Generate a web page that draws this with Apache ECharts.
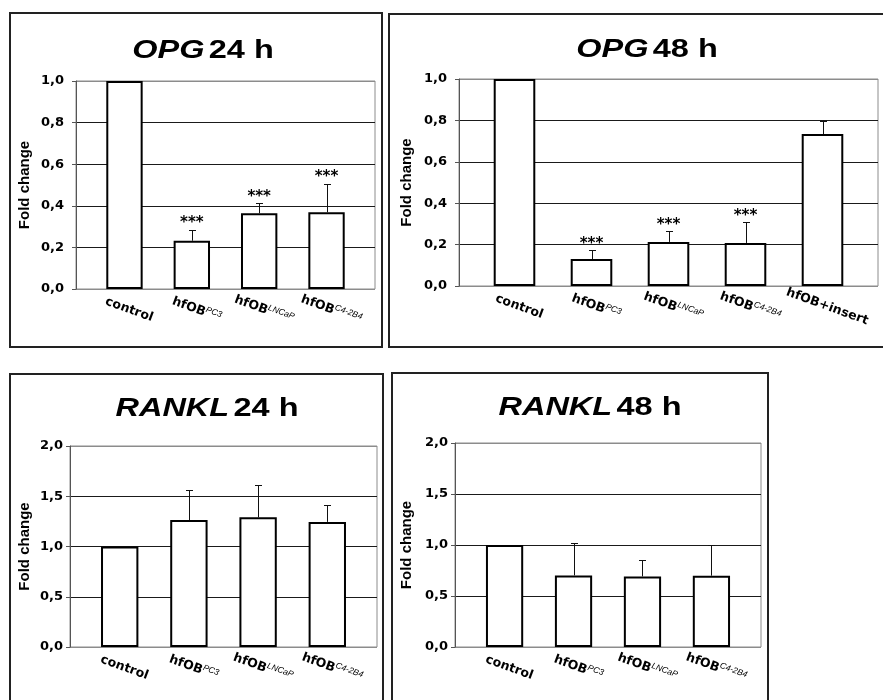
<!DOCTYPE html>
<html>
<head>
<meta charset="utf-8">
<script src="https://cdn.jsdelivr.net/npm/echarts@6/dist/echarts.min.js"></script>
<style>
  html, body { margin: 0; padding: 0; background: #fff; }
  #chart { width: 883px; height: 700px; }
</style>
</head>
<body>
<div id="chart"></div>
<script>
// Group names; the part after "|" is written as a superscript
const groups4 = ['control', 'hfOB|PC3', 'hfOB|LNCaP', 'hfOB|C4-2B4'];
const groups5 = ['control', 'hfOB|PC3', 'hfOB|LNCaP', 'hfOB|C4-2B4', 'hfOB+insert'];

// OPG, 24 h: mean fold change and upper SD
const opg24Mean = [1.0, 0.232, 0.364, 0.369];
const opg24Sd = [0, 0.052, 0.048, 0.136];
const opg24Sig = ['', '***', '***', '***'];

// OPG, 48 h
const opg48Mean = [1.0, 0.130, 0.213, 0.208, 0.734];
const opg48Sd = [0, 0.042, 0.052, 0.099, 0.063];
const opg48Sig = ['', '***', '***', '***', ''];

// RANKL, 24 h
const rankl24Mean = [1.0, 1.263, 1.290, 1.245];
const rankl24Sd = [0, 0.297, 0.325, 0.165];
const rankl24Sig = ['', '', '', ''];

// RANKL, 48 h
const rankl48Mean = [1.0, 0.702, 0.692, 0.699];
const rankl48Sd = [0, 0.314, 0.161, 0.298];
const rankl48Sig = ['', '', '', ''];

// Y tick values
const opgTicks = [0, 0.2, 0.4, 0.6, 0.8, 1.0];
const ranklTicks = [0, 0.5, 1.0, 1.5, 2.0];

const WIDE = '"DejaVu Sans", Verdana, sans-serif';
const NARROW = '"Liberation Sans", Arial, sans-serif';

const panels = [
  { gene: 'OPG', time: '24 h', cats: groups4, mean: opg24Mean, sd: opg24Sd, sig: opg24Sig, ticks: opgTicks,
    plot: { left: 76, top: 81, width: 299, height: 208 }, inset: 14.8, labelMargin: 12, nameGap: 44,
    box: { x: 10, y: 13, w: 372, h: 334 }, titleX: 203, titleY: 50 },
  { gene: 'OPG', time: '48 h', cats: groups5, mean: opg48Mean, sd: opg48Sd, sig: opg48Sig, ticks: opgTicks,
    plot: { left: 459, top: 79, width: 419, height: 207 }, inset: 17, labelMargin: 12, nameGap: 45,
    box: { x: 389, y: 14, w: 520, h: 333 }, titleX: 647, titleY: 49 },
  { gene: 'RANKL', time: '24 h', cats: groups4, mean: rankl24Mean, sd: rankl24Sd, sig: rankl24Sig, ticks: ranklTicks,
    plot: { left: 70, top: 446, width: 307, height: 201 }, inset: 15.1, labelMargin: 7, nameGap: 38,
    box: { x: 10, y: 374, w: 373, h: 360 }, titleX: 207, titleY: 408 },
  { gene: 'RANKL', time: '48 h', cats: groups4, mean: rankl48Mean, sd: rankl48Sd, sig: rankl48Sig, ticks: ranklTicks,
    plot: { left: 455, top: 443, width: 306, height: 204 }, inset: 15.1, labelMargin: 7, nameGap: 41,
    box: { x: 392, y: 373, w: 376, h: 360 }, titleX: 590, titleY: 407 }
];

function groupLabel(v) {
  const parts = v.split('|');
  return parts.length > 1 ? '{m|' + parts[0] + '}{s|' + parts[1] + '}' : '{m|' + parts[0] + '}';
}

function makeErrorBars(panel) {
  return function (params, api) {
    const i = params.dataIndex;
    const mean = api.value(1);
    const top = api.value(2);
    const base = api.coord([api.value(0), mean]);
    const tip = api.coord([api.value(0), top]);
    const half = 3.5;
    const children = [];
    if (top > mean) {
      const x = Math.round(tip[0]) + 0.5;
      const yt = Math.round(tip[1]) + 0.5;
      children.push({ type: 'line', shape: { x1: x, y1: base[1], x2: x, y2: yt },
        style: { stroke: '#111', lineWidth: 1 } });
      children.push({ type: 'line', shape: { x1: x - half, y1: yt, x2: x + half, y2: yt },
        style: { stroke: '#111', lineWidth: 1 } });
    }
    if (panel.sig[i]) {
      children.push({ type: 'text', x: tip[0], y: tip[1] + 1,
        style: { text: panel.sig[i], align: 'center', verticalAlign: 'bottom',
          font: 'bold 15px ' + WIDE, fill: '#000' } });
    }
    return { type: 'group', children: children };
  };
}

const grid = [], xAxis = [], yAxis = [], series = [], graphic = [];

panels.forEach(function (p) {
  const bgIdx = grid.length;
  const yMax = p.ticks[p.ticks.length - 1];
  const step = p.ticks[1] - p.ticks[0];
  const splitColors = p.ticks.map(function (t, j) {
    return (j === 0 || j === p.ticks.length - 1) ? '#8c8c8c' : '#1a1a1a';
  });

  // plot area with y axis and horizontal grid lines
  grid.push({ left: p.plot.left, top: p.plot.top, width: p.plot.width, height: p.plot.height,
    show: true, borderColor: '#8c8c8c', borderWidth: 1, backgroundColor: '#fff' });
  xAxis.push({ gridIndex: bgIdx, type: 'value', min: 0, max: 1, show: false });
  yAxis.push({ gridIndex: bgIdx, type: 'value', min: 0, max: yMax, interval: step,
    name: 'Fold change', nameLocation: 'middle', nameGap: p.nameGap,
    nameTextStyle: { fontFamily: NARROW, fontWeight: 'bold', fontSize: 15, color: '#000' },
    axisLine: { show: true, lineStyle: { color: '#555', width: 1 } },
    axisTick: { show: true, length: 4, lineStyle: { color: '#555' } },
    axisLabel: { fontFamily: WIDE, fontWeight: 'bold', fontSize: 13, color: '#000', margin: p.labelMargin,
      formatter: function (v) { return v.toFixed(1).replace('.', ','); } },
    splitLine: { show: true, lineStyle: { color: splitColors, width: 1 } } });

  // bars and group labels
  const fgIdx = grid.length;
  grid.push({ left: p.plot.left + p.inset, top: p.plot.top, width: p.plot.width - 2 * p.inset,
    height: p.plot.height, show: false });
  xAxis.push({ gridIndex: fgIdx, type: 'category', data: p.cats,
    axisLine: { show: false }, axisTick: { show: false },
    axisLabel: { interval: 0, rotate: -20, align: 'center', margin: 19, padding: [0, 0, 0, 10],
      formatter: groupLabel,
      rich: {
        m: { fontFamily: WIDE, fontWeight: 'bold', fontSize: 12.5, color: '#000', lineHeight: 16 },
        s: { fontFamily: NARROW, fontStyle: 'italic', fontSize: 8.5, color: '#000', verticalAlign: 'top', lineHeight: 8 }
      } } });
  yAxis.push({ gridIndex: fgIdx, type: 'value', min: 0, max: yMax, show: false });

  series.push({ type: 'bar', xAxisIndex: fgIdx, yAxisIndex: fgIdx, data: p.mean,
    barWidth: '54%', silent: true, z: 3,
    itemStyle: { color: '#fff', borderColor: '#000', borderWidth: 2 } });
  series.push({ type: 'custom', xAxisIndex: fgIdx, yAxisIndex: fgIdx, z: 4, silent: true,
    renderItem: makeErrorBars(p),
    data: p.mean.map(function (m, i) { return [i, m, m + p.sd[i]]; }) });

  // panel heading: gene name in italics, then the time point
  graphic.push({ type: 'text', x: p.titleX, y: p.titleY + 1, scaleX: 1.3, silent: true,
    style: {
      text: '{i|' + p.gene + '} {b|' + p.time + '}',
      align: 'center', verticalAlign: 'middle',
      rich: {
        i: { fontFamily: NARROW, fontWeight: 'bold', fontStyle: 'italic', fontSize: 25, fill: '#000' },
        b: { fontFamily: NARROW, fontWeight: 'bold', fontSize: 25, fill: '#000' }
      }
    } });

  graphic.push({ type: 'rect', z: -10, silent: true,
    shape: { x: p.box.x, y: p.box.y, width: p.box.w, height: p.box.h },
    style: { fill: 'none', stroke: '#222', lineWidth: 2 } });
});

const chart = echarts.init(document.getElementById('chart'), null, { renderer: 'canvas' });
chart.setOption({
  animation: false,
  backgroundColor: '#fff',
  grid: grid,
  xAxis: xAxis,
  yAxis: yAxis,
  series: series,
  graphic: graphic
});
</script>
</body>
</html>
